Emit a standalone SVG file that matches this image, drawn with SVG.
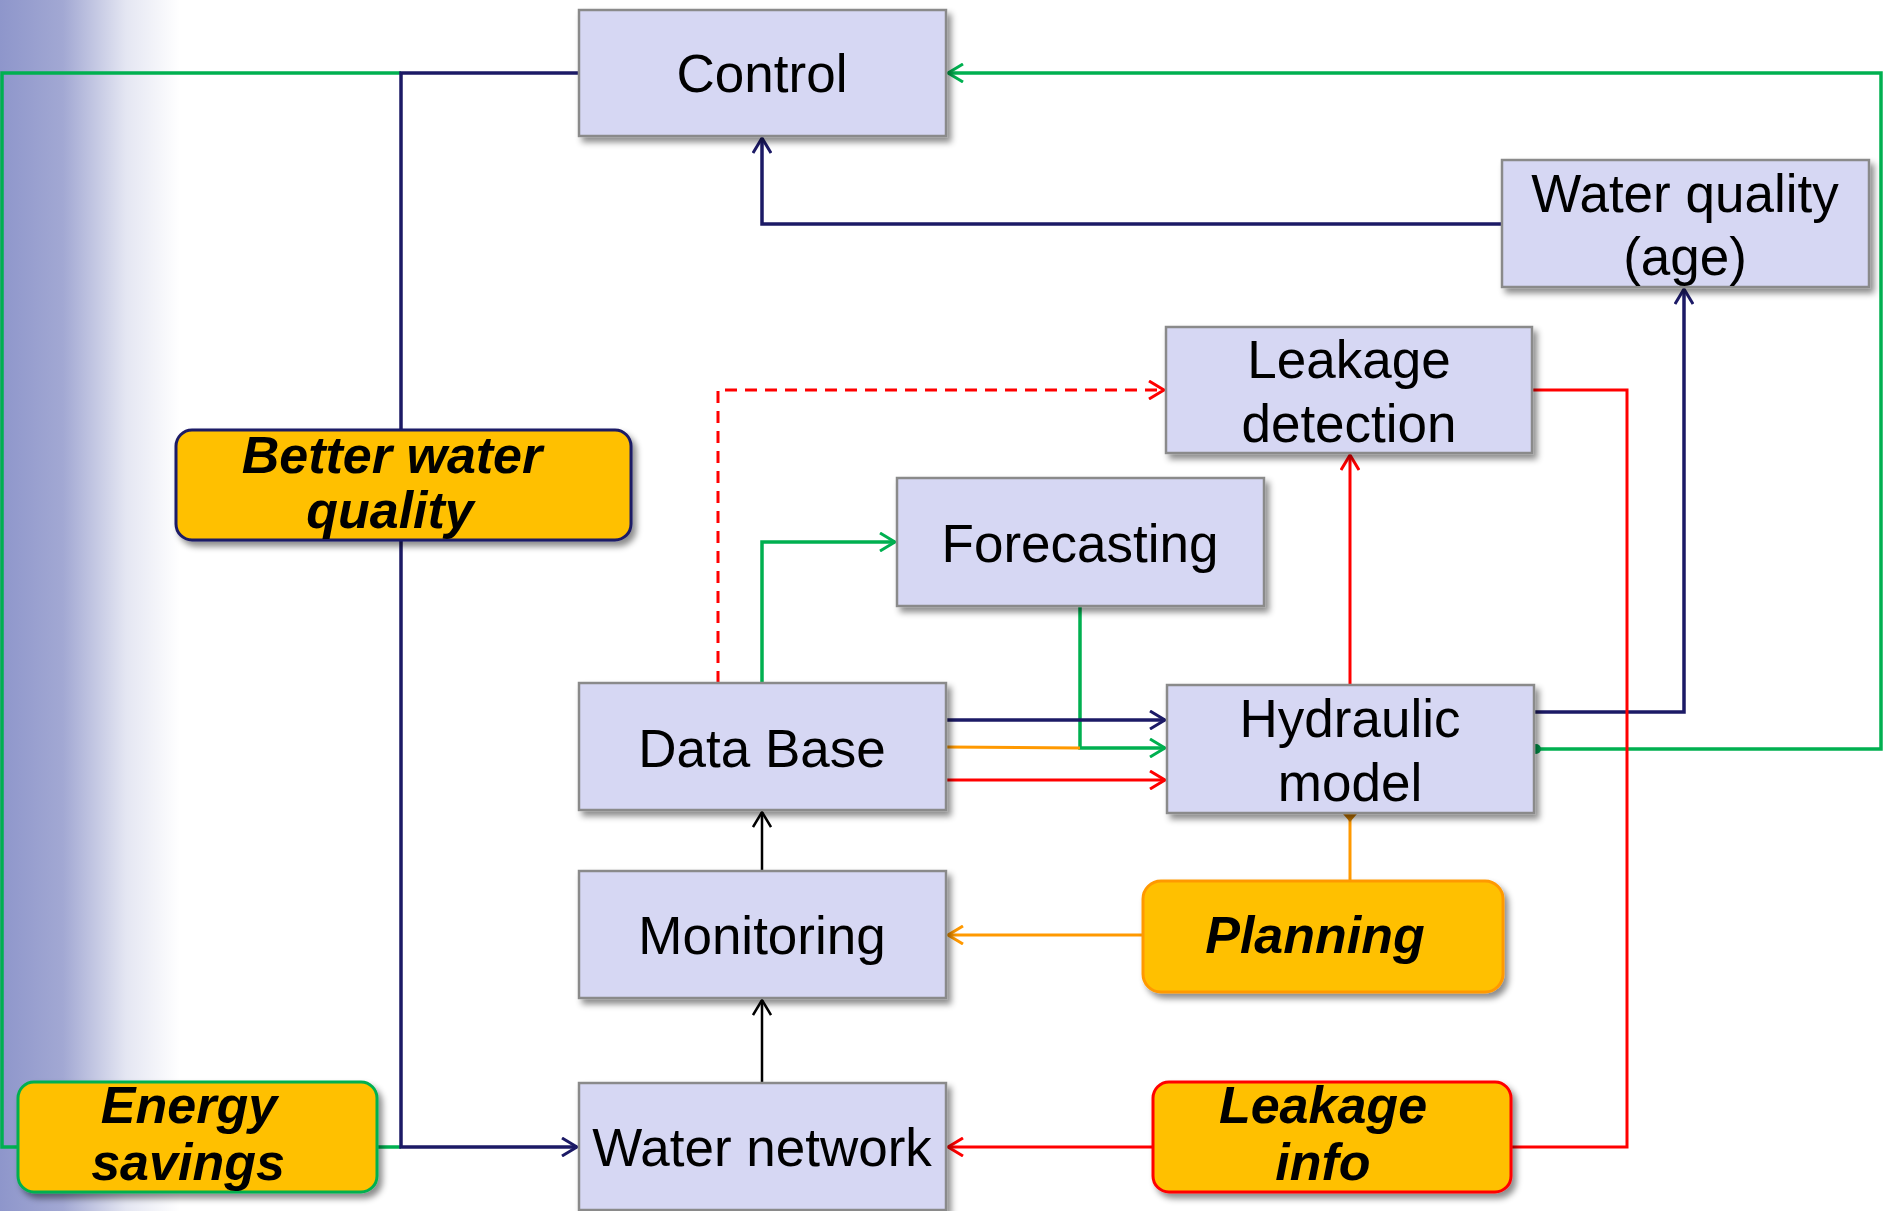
<svg xmlns="http://www.w3.org/2000/svg" width="1883" height="1211" viewBox="0 0 1883 1211">
<style>
.box{fill:#D6D7F3;stroke:#8A8A8A;stroke-width:2.5;filter:url(#sh)}
.tag{fill:#FFC000;stroke-width:3;filter:url(#sh)}
.t{font-family:"Liberation Sans",Arial,sans-serif;font-size:53px;fill:#000;text-anchor:middle}
.b{font-family:"Liberation Sans",Arial,sans-serif;font-size:52px;font-weight:bold;font-style:italic;fill:#000;text-anchor:middle}
.c{fill:none;stroke-linejoin:miter}
.nv{stroke:#1C1A66;stroke-width:3.5}
.gr{stroke:#00B050;stroke-width:3.5}
.rd{stroke:#FF0000;stroke-width:3}
.or{stroke:#FF9900;stroke-width:3}
.bk{stroke:#000;stroke-width:2.5}
</style>
<defs>
<linearGradient id="bg" x1="0" y1="0" x2="1" y2="0">
<stop offset="0" stop-color="#8E96CB"/>
<stop offset="0.35" stop-color="#A2A8D3"/>
<stop offset="0.7" stop-color="#E4E6F2"/>
<stop offset="1" stop-color="#FFFFFF"/>
</linearGradient>
<filter id="sh" x="-10%" y="-10%" width="130%" height="140%">
<feDropShadow dx="4" dy="5" stdDeviation="3" flood-color="#000" flood-opacity="0.45"/>
</filter>
<marker id="aN" viewBox="0 0 18 20" refX="16" refY="10" markerWidth="18" markerHeight="20" markerUnits="userSpaceOnUse" orient="auto"><path d="M1,1 L16,10 L1,19" fill="none" stroke="#1C1A66" stroke-width="3"/></marker>
<marker id="aG" viewBox="0 0 18 20" refX="16" refY="10" markerWidth="18" markerHeight="20" markerUnits="userSpaceOnUse" orient="auto"><path d="M1,1 L16,10 L1,19" fill="none" stroke="#00B050" stroke-width="3"/></marker>
<marker id="aR" viewBox="0 0 18 20" refX="16" refY="10" markerWidth="18" markerHeight="20" markerUnits="userSpaceOnUse" orient="auto"><path d="M1,1 L16,10 L1,19" fill="none" stroke="#FF0000" stroke-width="3"/></marker>
<marker id="aO" viewBox="0 0 18 20" refX="16" refY="10" markerWidth="18" markerHeight="20" markerUnits="userSpaceOnUse" orient="auto"><path d="M1,1 L16,10 L1,19" fill="none" stroke="#FF9900" stroke-width="3"/></marker>
<marker id="aK" viewBox="0 0 18 20" refX="16" refY="10" markerWidth="18" markerHeight="20" markerUnits="userSpaceOnUse" orient="auto"><path d="M1,1 L16,10 L1,19" fill="none" stroke="#000" stroke-width="2.5"/></marker>
</defs>
<rect x="0" y="0" width="1883" height="1211" fill="#FFFFFF"/>
<rect x="0" y="0" width="180" height="1211" fill="url(#bg)"/>

<g id="connectors">
<path class="c gr" d="M18,1147 H2 V73 H401"/>
<path class="c gr" d="M377,1147 H401"/>
<path class="c nv" stroke-width="3" d="M579,73 H401 V1147 H577" marker-end="url(#aN)"/>
<path class="c gr" d="M1534,749 H1881 V73 H948" marker-end="url(#aG)"/>
<circle cx="1536" cy="749" r="5" fill="#00A050"/>
<path class="c nv" d="M1502,224 H762 V138" marker-end="url(#aN)"/>
<path class="c nv" d="M1534,712 H1684 V289" marker-end="url(#aN)"/>
<path class="c rd" stroke-dasharray="12,8" d="M718,683 V390 H1164" marker-end="url(#aR)"/>
<path class="c rd" d="M1532,390 H1627 V1147 H1511"/>
<path class="c rd" d="M1153,1147 H948" marker-end="url(#aR)"/>
<path class="c rd" stroke-width="2.5" d="M1350,685 V455" marker-end="url(#aR)"/>
<path class="c gr" stroke-width="3" d="M762,683 V542 H895" marker-end="url(#aG)"/>
<path class="c gr" stroke-width="3" d="M1080,606 V748 H1165" marker-end="url(#aG)"/>
<path class="c nv" d="M943,720 H1165" marker-end="url(#aN)"/>
<path class="c or" d="M946,747 L1080,748"/>
<path class="c rd" stroke-width="3.5" d="M946,780 H1165" marker-end="url(#aR)"/>
<path class="c or" d="M1350,881 V815"/>
<path d="M1343,814 H1357 L1350,822 Z" fill="#C87800"/>
<path class="c or" stroke-width="3.5" d="M1143,935 H948" marker-end="url(#aO)"/>
<path class="c bk" d="M762,871 V812" marker-end="url(#aK)"/>
<path class="c bk" d="M762,1083 V1000" marker-end="url(#aK)"/>
</g>

<g id="control"><rect class="box" x="579" y="10" width="367" height="126"/><text class="t" x="762" y="92">Control</text></g>
<g id="water-quality"><rect class="box" x="1502" y="160" width="367" height="127"/><text class="t" x="1685" y="212">Water quality</text><text class="t" x="1685" y="275">(age)</text></g>
<g id="leakage-detection"><rect class="box" x="1166" y="327" width="366" height="126"/><text class="t" x="1349" y="378">Leakage</text><text class="t" x="1349" y="442">detection</text></g>
<g id="forecasting"><rect class="box" x="897" y="478" width="367" height="128"/><text class="t" x="1080" y="562">Forecasting</text></g>
<g id="data-base"><rect class="box" x="579" y="683" width="367" height="127"/><text class="t" x="762" y="767">Data Base</text></g>
<g id="hydraulic-model"><rect class="box" x="1167" y="685" width="367" height="128"/><text class="t" x="1350" y="737">Hydraulic</text><text class="t" x="1350" y="801">model</text></g>
<g id="monitoring"><rect class="box" x="579" y="871" width="367" height="127"/><text class="t" x="762" y="954">Monitoring</text></g>
<g id="water-network"><rect class="box" x="579" y="1083" width="367" height="127"/><text class="t" x="762" y="1166">Water network</text></g>
<g id="better-water-quality"><rect class="tag" x="176" y="430" width="455" height="110" rx="16" stroke="#1C1A66"/><text class="b" x="392" y="473">Better water</text><text class="b" x="390" y="528">quality</text></g>
<g id="energy-savings"><rect class="tag" x="18" y="1082" width="359" height="110" rx="16" stroke="#00B050"/><text class="b" x="189" y="1123">Energy</text><text class="b" x="188" y="1180">savings</text></g>
<g id="planning"><rect class="tag" x="1143" y="881" width="360" height="111" rx="18" stroke="#FF9900"/><text class="b" x="1315" y="953">Planning</text></g>
<g id="leakage-info"><rect class="tag" x="1153" y="1082" width="358" height="110" rx="16" stroke="#FF0000"/><text class="b" x="1323" y="1123">Leakage</text><text class="b" x="1323" y="1180">info</text></g>
</svg>
